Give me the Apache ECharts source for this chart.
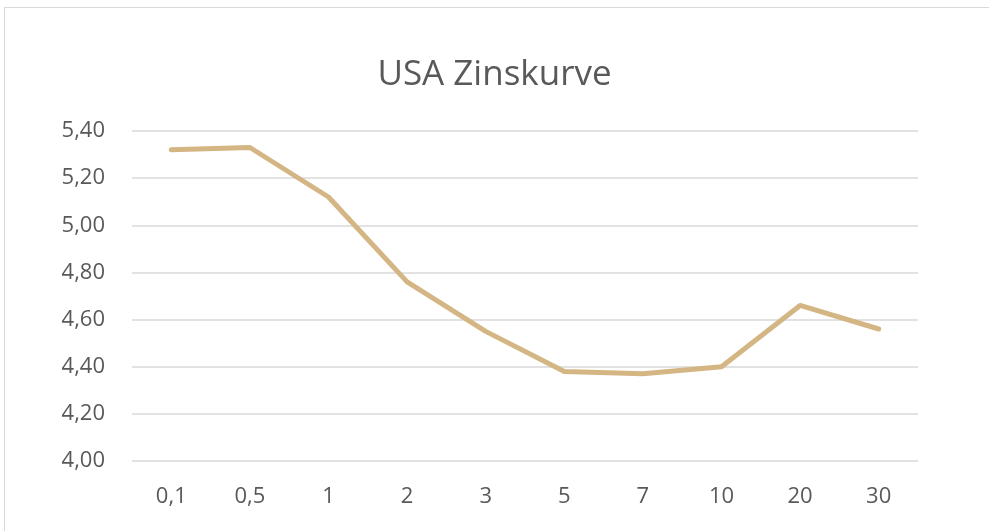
<!DOCTYPE html>
<html>
<head>
<meta charset="utf-8">
<script src="https://cdn.jsdelivr.net/npm/echarts@6/dist/echarts.min.js"></script>
<style>
html,body{margin:0;padding:0;background:#fff;}
#frame{position:absolute;left:4px;top:7px;width:1000px;height:540px;border-top:1.5px solid #d9d9d9;border-left:1.5px solid #d9d9d9;box-sizing:border-box;}
#chart{position:absolute;left:0;top:0;width:989px;height:531px;}
</style>
</head>
<body>
<div id="frame"></div>
<div id="chart"></div>
<script>
const titleText = "USA Zinskurve";
const categories = ["0,1","0,5","1","2","3","5","7","10","20","30"];
const yields = [5.32, 5.33, 5.12, 4.76, 4.55, 4.38, 4.37, 4.40, 4.66, 4.56];
const yMin = 4.0, yMax = 5.4, yStep = 0.2;

const chart = echarts.init(document.getElementById('chart'), null, {renderer:'canvas'});
chart.setOption({
  animation:false,
  backgroundColor:'transparent',
  title:{
    text:titleText,
    left:'center',
    top:53,
    textStyle:{fontFamily:'Open Sans',fontSize:35,fontWeight:'normal',color:'#595959'}
  },
  grid:{left:132,right:71,top:131,bottom:70,containLabel:false},
  xAxis:{
    type:'category',
    data:categories,
    boundaryGap:true,
    axisLine:{show:false},
    axisTick:{show:false},
    axisLabel:{margin:25,fontFamily:'Open Sans',fontSize:22,color:'#595959'}
  },
  yAxis:{
    type:'value',
    min:yMin,max:yMax,interval:yStep,
    axisLine:{show:false},
    axisTick:{show:false},
    splitLine:{lineStyle:{color:'#d9d9d9',width:1.5}},
    axisLabel:{margin:27,fontFamily:'Open Sans',fontSize:22,color:'#595959',
      formatter:v=>v.toFixed(2).replace('.',',')}
  },
  series:[{
    type:'line',
    data:yields,
    symbol:'none',
    lineStyle:{color:'#d4b584',width:5,cap:'round',join:'round'},
    itemStyle:{color:'#d4b584'}
  }]
});
</script>
</body>
</html>
